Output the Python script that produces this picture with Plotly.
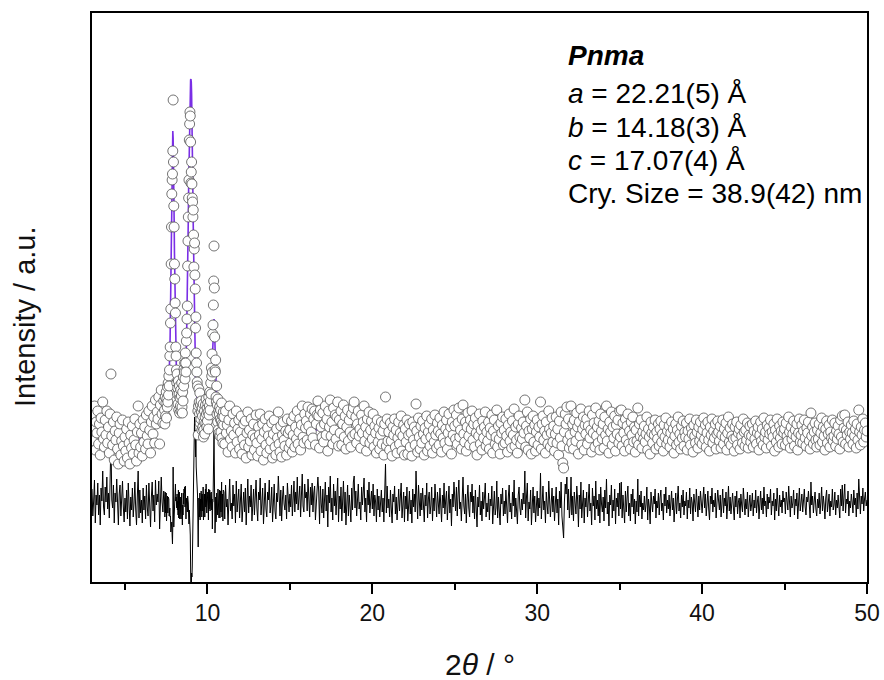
import numpy as np
import plotly.graph_objects as go

# ---------------- measurement grid (2theta, degrees) ----------------
# segment A: 3.00-7.35 step 0.05 ; segment B (peaks): 7.40-10.98 step 0.02 ; segment C: 11.00-50.00 step 0.05
two_theta_a = np.round(np.arange(3.00, 7.40 - 1e-9, 0.05), 2)
two_theta_b = np.round(np.arange(7.40, 11.00 - 1e-9, 0.02), 2)
two_theta_c = np.round(np.arange(11.00, 50.00 + 1e-9, 0.05), 2)

# ---------------- observed intensities (a.u.) ----------------
obs_a = [
    168, 141, 155, 176, 132, 160, 149, 171, 138, 158, 127, 164, 150, 180, 143, 135, 162, 147, 171, 139,
    155, 129, 168, 208, 146, 137, 160, 122, 151, 142, 165, 133, 118, 149, 158, 127, 141, 162, 136, 121,
    145, 131, 153, 124, 160, 139, 118, 147, 134, 156, 128, 142, 163, 137, 121, 150, 176, 129, 158, 135,
    149, 126, 162, 140, 155, 133, 167, 146, 138, 171, 152, 129, 160, 176, 148, 165, 139, 182, 158, 170,
    163, 185, 138, 177, 192, 168, 159, 181,
]
obs_b = [
    172, 158, 185, 166, 179, 190, 164, 183, 175, 195,
    180, 199, 187, 206, 196, 212, 226, 235, 259, 273,
    318, 355, 388, 402, 408, 431, 482, 420, 376, 355,
    318, 303, 279, 269, 235, 226, 212, 199, 208, 188,
    194, 178, 201, 172, 188, 196, 169, 184, 176, 192,
    171, 186, 199, 175, 169, 190, 181, 205, 196, 213,
    210, 219, 203, 229, 219, 210, 241, 249, 263, 276,
    316, 341, 365, 384, 402, 442, 458, 470, 466, 440,
    399, 410, 420, 398, 384, 380, 365, 372, 347, 315,
    333, 339, 307, 293, 254, 265, 229, 219, 210, 200,
    196, 171, 147, 176, 193, 180, 168, 189, 159, 177,
    163, 181, 170, 152, 174, 166, 155, 178, 145, 152,
    160, 171, 148, 165, 177, 159, 183, 168, 155, 174,
    161, 179, 170, 153, 185, 167, 176, 190, 172, 181,
    199, 188, 214, 206, 228, 210, 248, 257, 277, 301,
    336, 294, 245, 212, 210, 222, 185, 180, 196, 168,
    177, 160, 183, 152, 171, 149, 168, 175, 146, 163,
    172, 150, 161, 179, 144, 158, 166, 139, 170, 157,
]
obs_c = [
    165, 138, 171, 149, 157, 130, 162, 176, 143, 151, 135, 168, 147, 159, 129, 171, 140, 153, 162, 133,
    150, 166, 128, 143, 158, 137, 161, 124, 149, 170, 135, 152, 141, 163, 127, 147, 158, 132, 144, 167,
    139, 126, 155, 147, 168, 131, 143, 158, 122, 150, 163, 137, 129, 154, 146, 166, 133, 141, 159, 124,
    148, 162, 135, 127, 153, 144, 170, 138, 130, 156, 125, 147, 160, 142, 136, 151, 127, 163, 149, 134,
    152, 139, 161, 130, 147, 166, 135, 155, 143, 171, 138, 150, 163, 132, 157, 176, 145, 139, 168, 154,
    161, 142, 175, 156, 138, 168, 150, 173, 144, 163, 171, 137, 158, 167, 181, 166, 134, 172, 155, 145,
    169, 140, 158, 176, 147, 163, 131, 171, 155, 182, 146, 160, 138, 174, 152, 167, 143, 165, 180, 136,
    162, 149, 171, 137, 158, 177, 145, 166, 133, 155, 172, 141, 162, 150, 135, 168, 146, 174, 180, 148,
    165, 139, 158, 171, 146, 153, 134, 167, 149, 160, 176, 141, 155, 131, 163, 148, 170, 139, 152, 161,
    143, 168, 135, 156, 149, 129, 162, 140, 154, 133, 147, 160, 138, 151, 127, 158, 185, 136, 163, 141,
    150, 132, 159, 141, 126, 155, 147, 163, 135, 152, 129, 144, 160, 138, 149, 166, 131, 146, 157, 127,
    153, 140, 162, 128, 147, 158, 135, 149, 126, 160, 142, 155, 137, 178, 151, 130, 164, 145, 133, 156,
    139, 161, 148, 127, 154, 143, 166, 131, 150, 158, 136, 145, 163, 129, 152, 140, 167, 147, 134, 159,
    151, 137, 164, 148, 130, 157, 144, 170, 139, 153, 162, 133, 149, 168, 141, 155, 128, 160, 147, 172,
    156, 143, 167, 138, 159, 174, 145, 152, 133, 163, 177, 148, 140, 160, 131, 155, 169, 146, 137, 162,
    153, 171, 142, 158, 135, 164, 149, 127, 157, 146, 168, 138, 152, 132, 161, 144, 155, 170, 136, 150,
    141, 160, 133, 154, 147, 167, 129, 151, 162, 138, 145, 172, 135, 156, 143, 128, 159, 149, 165, 137,
    152, 139, 163, 146, 130, 157, 168, 141, 150, 134, 161, 147, 173, 136, 155, 142, 129, 158, 166, 145,
    138, 154, 143, 160, 149, 182, 135, 156, 170, 132, 151, 144, 163, 128, 153, 166, 140, 157, 131, 150,
    162, 137, 155, 145, 180, 133, 158, 166, 142, 151, 129, 160, 147, 138, 171, 153, 135, 149, 164, 140,
    156, 131, 148, 165, 139, 153, 127, 161, 144, 170, 136, 119, 114, 150, 168, 158, 175, 142, 163, 134,
    147, 176, 139, 158, 133, 162, 150, 141, 169, 155, 128, 160, 146, 173, 137, 153, 165, 132, 157, 148,
    163, 138, 156, 171, 144, 152, 130, 167, 149, 159, 135, 174, 146, 155, 139, 161, 132, 168, 151, 143,
    158, 134, 165, 147, 176, 141, 153, 129, 160, 150, 170, 137, 155, 144, 166, 131, 157, 148, 162, 139,
    171, 145, 172, 136, 159, 149, 131, 163, 142, 156, 168, 138, 151, 133, 160, 147, 165, 140, 155, 130,
    152, 141, 174, 137, 158, 146, 162, 134, 150, 143, 156, 140, 148, 165, 132, 153, 145, 128, 160, 149,
    139, 155, 147, 162, 133, 150, 143, 158, 136, 153, 161, 140, 148, 131, 157, 145, 164, 138, 151, 142,
    156, 135, 149, 160, 141, 153, 129, 146, 158, 137, 152, 165, 140, 148, 133, 156, 144, 161, 136, 150,
    145, 159, 132, 151, 143, 163, 137, 154, 148, 130, 157, 146, 139, 162, 150, 134, 155, 141, 160, 147,
    138, 152, 164, 143, 157, 135, 149, 160, 142, 131, 155, 147, 163, 139, 151, 144, 158, 133, 148, 161,
    150, 141, 156, 134, 147, 162, 138, 153, 145, 159, 132, 149, 165, 140, 154, 137, 146, 158, 143, 131,
    155, 144, 160, 137, 149, 153, 133, 157, 146, 139, 163, 150, 136, 152, 142, 159, 134, 147, 156, 140,
    146, 158, 135, 151, 143, 161, 138, 149, 155, 132, 147, 160, 141, 153, 137, 164, 145, 150, 134, 157,
    142, 154, 148, 162, 136, 150, 145, 158, 131, 152, 140, 163, 147, 135, 156, 144, 151, 138, 160, 149,
    153, 137, 159, 146, 141, 165, 150, 134, 155, 143, 148, 161, 136, 152, 145, 158, 132, 149, 163, 140,
    147, 157, 139, 151, 162, 144, 136, 154, 149, 160, 141, 133, 169, 146, 155, 138, 150, 159, 142, 135,
    152, 143, 158, 137, 149, 164, 140, 155, 146, 132, 153, 161, 139, 148, 157, 135, 150, 144, 162, 141,
    146, 159, 136, 151, 143, 156, 148, 133, 162, 145, 166, 140, 154, 167, 138, 152, 147, 160, 135, 150,
    143, 157, 149, 138, 161, 146, 153, 134, 158, 142, 172, 150, 137, 155, 147, 163, 140, 152, 159, 145,
    151,
]

# ---------------- calculated (Rietveld fit) intensities ----------------
calc_a = [
    152, 152, 151, 151, 150, 150, 149, 149, 148, 148, 147, 147, 146, 146, 145, 145, 144, 144, 143, 143,
    143, 142, 142, 141, 141, 140, 140, 140, 139, 139, 139, 139, 138, 138, 138, 138, 138, 138, 138, 138,
    138, 138, 138, 138, 138, 138, 139, 139, 139, 139, 140, 140, 140, 141, 141, 141, 142, 142, 143, 143,
    144, 144, 145, 145, 146, 147, 147, 148, 149, 149, 150, 151, 152, 153, 154, 155, 156, 157, 158, 159,
    160, 161, 162, 163, 164, 165, 166, 167,
]
calc_b = [
    168, 170, 172, 174, 176, 178, 180, 182, 184, 186,
    188, 191, 195, 200, 207, 216, 229, 247, 270, 300,
    335, 372, 405, 432, 447, 451, 444, 426, 398, 364,
    330, 298, 270, 248, 231, 218, 209, 202, 197, 193,
    190, 188, 186, 185, 184, 183, 183, 183, 183, 184,
    185, 186, 187, 188, 189, 190, 191, 193, 195, 197,
    198, 201, 205, 210, 216, 224, 234, 247, 263, 283,
    307, 334, 363, 393, 421, 447, 468, 485, 496, 502,
    503, 500, 488, 470, 446, 418, 388, 357, 327, 299,
    273, 251, 233, 218, 206, 197, 191, 187, 184, 183,
    186, 188, 189, 188, 186, 183, 180, 177, 174, 171,
    169, 167, 165, 164, 163, 162, 161, 160, 160, 160,
    160, 160, 160, 160, 161, 161, 162, 162, 163, 164,
    165, 166, 167, 168, 169, 171, 173, 175, 178, 182,
    187, 193, 201, 211, 222, 234, 245, 254, 260, 263,
    263, 259, 251, 240, 227, 214, 202, 192, 184, 178,
    173, 170, 167, 165, 163, 162, 161, 160, 159, 158,
    158, 157, 157, 156, 156, 156, 155, 155, 155, 154,
]
calc_c = [
    152, 152, 151, 151, 151, 150, 150, 150, 149, 149, 149, 148, 148, 148, 147, 147, 147, 146, 146, 146,
    146, 145, 145, 145, 145, 144, 144, 144, 144, 144, 143, 143, 143, 143, 143, 143, 142, 142, 142, 142,
    142, 142, 142, 142, 141, 141, 141, 141, 141, 141, 141, 141, 141, 141, 141, 141, 141, 141, 141, 141,
    141, 141, 141, 141, 141, 141, 141, 141, 141, 141, 141, 141, 141, 141, 141, 141, 141, 141, 141, 141,
    141, 141, 141, 141, 141, 142, 142, 142, 142, 143, 143, 143, 144, 144, 145, 145, 146, 146, 147, 147,
    148, 148, 149, 149, 150, 150, 150, 151, 151, 151, 152, 152, 152, 152, 153, 153, 153, 153, 153, 153,
    153, 153, 153, 153, 153, 153, 153, 153, 153, 153, 153, 153, 153, 153, 153, 153, 153, 153, 153, 153,
    153, 153, 153, 153, 153, 153, 153, 153, 153, 152, 152, 152, 152, 152, 152, 151, 151, 151, 151, 151,
    151, 150, 150, 150, 150, 150, 149, 149, 149, 149, 149, 148, 148, 148, 148, 148, 147, 147, 147, 147,
    147, 147, 146, 146, 146, 146, 146, 145, 145, 145, 145, 145, 145, 144, 144, 144, 144, 144, 144, 144,
    144, 144, 144, 144, 144, 144, 144, 144, 144, 144, 144, 144, 144, 144, 144, 144, 144, 144, 144, 144,
    144, 144, 144, 144, 144, 144, 144, 144, 144, 144, 144, 144, 144, 144, 144, 144, 144, 144, 144, 144,
    144, 144, 144, 144, 144, 144, 144, 144, 144, 145, 145, 145, 145, 145, 145, 146, 146, 146, 146, 146,
    146, 146, 147, 147, 147, 147, 147, 148, 148, 148, 148, 148, 148, 149, 149, 149, 149, 149, 149, 149,
    149, 149, 149, 149, 149, 149, 149, 149, 149, 149, 149, 149, 149, 149, 149, 149, 149, 149, 149, 149,
    150, 150, 150, 149, 149, 149, 149, 149, 149, 148, 148, 148, 148, 148, 148, 148, 148, 148, 148, 148,
    148, 148, 148, 148, 148, 148, 148, 148, 148, 148, 148, 148, 148, 148, 148, 148, 148, 148, 148, 148,
    148, 148, 148, 148, 148, 148, 148, 148, 148, 148, 148, 148, 148, 148, 148, 148, 148, 148, 148, 148,
    148, 148, 148, 148, 148, 148, 148, 148, 148, 148, 148, 148, 148, 148, 148, 148, 148, 148, 148, 148,
    148, 148, 148, 148, 148, 147, 147, 147, 147, 147, 147, 147, 147, 147, 147, 147, 147, 147, 147, 147,
    147, 147, 147, 147, 147, 147, 147, 147, 147, 147, 147, 147, 147, 147, 147, 147, 147, 147, 147, 147,
    148, 148, 149, 149, 149, 149, 150, 150, 150, 150, 150, 150, 150, 150, 150, 150, 150, 150, 150, 150,
    150, 150, 150, 150, 150, 150, 150, 150, 150, 150, 150, 150, 150, 150, 150, 150, 150, 150, 150, 150,
    150, 150, 150, 150, 150, 150, 150, 150, 150, 150, 150, 150, 150, 150, 150, 150, 150, 150, 150, 150,
    149, 149, 149, 149, 149, 149, 149, 149, 149, 149, 149, 149, 149, 149, 149, 149, 149, 149, 149, 149,
    148, 148, 148, 148, 148, 148, 148, 148, 148, 148, 147, 147, 147, 147, 147, 147, 147, 147, 147, 147,
    146, 146, 146, 146, 146, 146, 146, 146, 146, 146, 146, 146, 146, 146, 146, 146, 146, 146, 146, 146,
    146, 146, 146, 146, 146, 146, 146, 146, 146, 146, 146, 146, 146, 146, 146, 146, 146, 146, 146, 146,
    146, 146, 146, 146, 146, 146, 146, 146, 146, 146, 146, 146, 146, 146, 146, 146, 146, 146, 146, 146,
    146, 146, 146, 146, 146, 146, 146, 146, 146, 146, 146, 146, 146, 146, 146, 146, 146, 146, 146, 146,
    146, 146, 146, 146, 146, 146, 146, 146, 146, 146, 146, 146, 146, 146, 146, 146, 146, 146, 146, 146,
    146, 146, 146, 146, 146, 146, 146, 146, 146, 146, 146, 146, 146, 146, 146, 146, 146, 146, 146, 146,
    146, 146, 146, 146, 146, 146, 146, 146, 146, 146, 146, 146, 146, 146, 146, 146, 146, 146, 146, 146,
    146, 146, 146, 146, 146, 146, 146, 146, 146, 146, 146, 146, 146, 146, 146, 146, 146, 146, 146, 146,
    146, 146, 146, 146, 146, 146, 146, 146, 146, 146, 146, 146, 146, 146, 146, 146, 146, 146, 146, 146,
    146, 146, 146, 146, 146, 146, 146, 146, 146, 146, 146, 146, 146, 146, 146, 146, 146, 146, 146, 146,
    146, 146, 146, 146, 146, 146, 146, 146, 146, 146, 146, 146, 146, 146, 146, 146, 146, 146, 146, 146,
    146, 146, 146, 146, 146, 146, 146, 146, 146, 146, 146, 146, 146, 146, 146, 146, 146, 146, 146, 146,
    146, 146, 146, 146, 146, 146, 146, 146, 146, 146, 146, 146, 146, 146, 146, 146, 146, 146, 146, 146,
    146,
]

# offset applied to the difference curve (obs - calc) so it sits below the pattern
DIFF_OFFSET = 77

# annotation text
label_lines = [
    "<b><i>Pnma</i></b>",
    "<i>a</i> = 22.21(5) Å",
    "<i>b</i> = 14.18(3) Å",
    "<i>c</i> = 17.07(4) Å",
    "Cry. Size = 38.9(42) nm",
]
x_ticks = [10, 20, 30, 40, 50]
x_minor_ticks = [5, 15, 25, 35, 45]

# ---------------- assemble ----------------
segs = [(two_theta_a, obs_a, calc_a), (two_theta_b, obs_b, calc_b), (two_theta_c, obs_c, calc_c)]
for xs, o, c in segs:
    if not (len(xs) == len(o) == len(c)):
        raise ValueError(f"length mismatch: x={len(xs)} obs={len(o)} calc={len(c)}")

two_theta = np.concatenate([s[0] for s in segs])
obs = np.array(obs_a + obs_b + obs_c, dtype=float)
calc = np.array(calc_a + calc_b + calc_c, dtype=float)
diff = obs - calc + DIFF_OFFSET

FONT = "Liberation Sans, Arial, Helvetica, sans-serif"

fig = go.Figure()
fig.add_trace(go.Scatter(x=two_theta, y=diff, mode="lines",
                         line=dict(color="black", width=1.0), name="diff"))
fig.add_trace(go.Scatter(x=two_theta, y=calc, mode="lines",
                         line=dict(color="#7a2ee6", width=1.6), name="calc"))
fig.add_trace(go.Scatter(x=two_theta, y=obs, mode="markers",
                         marker=dict(symbol="circle", size=10, color="white",
                                     line=dict(color="#505050", width=0.8)),
                         name="obs"))

L, R, T, B = 92, 17, 13, 98
W, H = 884, 680
pw, ph = W - L - R, H - T - B

def px_to_paper(px, py):
    return (px - L) / pw, (H - B - py) / ph

annotations = []
line_py = [55, 94, 127, 160, 193]
for txt, py in zip(label_lines, line_py):
    xp, yp = px_to_paper(566, py)
    annotations.append(dict(text=txt, x=xp, y=yp, xref="paper", yref="paper",
                            xanchor="left", yanchor="middle", showarrow=False,
                            font=dict(family=FONT, size=28, color="black")))
xp, yp = px_to_paper(25, 317)
annotations.append(dict(text="Intensity / a.u.", x=xp, y=yp, xref="paper", yref="paper",
                        xanchor="center", yanchor="middle", textangle=-90, showarrow=False,
                        font=dict(family=FONT, size=29, color="#111")))
xp, yp = px_to_paper(480, 664)
annotations.append(dict(text="2<i>θ</i> / °", x=xp, y=yp, xref="paper", yref="paper",
                        xanchor="center", yanchor="middle", showarrow=False,
                        font=dict(family=FONT, size=30, color="#111")))

fig.update_layout(
    width=W, height=H,
    margin=dict(l=L, r=R, t=T, b=B, autoexpand=False),
    paper_bgcolor="white", plot_bgcolor="white",
    showlegend=False,
    annotations=annotations,
    xaxis=dict(range=[3, 50], showgrid=False, zeroline=False,
               showline=True, linecolor="black", linewidth=1.5, mirror=True,
               ticks="outside", tickvals=x_ticks, ticklen=10, tickwidth=1.5, tickcolor="black",
               minor=dict(tickvals=x_minor_ticks, ticks="outside", ticklen=6, tickwidth=1.5,
                          tickcolor="black", showgrid=False),
               tickfont=dict(family=FONT, size=23, color="#111")),
    yaxis=dict(range=[0, 569], showgrid=False, zeroline=False,
               showline=True, linecolor="black", linewidth=1.5, mirror=True,
               ticks="", showticklabels=False),
)

# remove the browser's default page margin so the figure fills the window exactly
fig.write_html("out.html", config={"displayModeBar": False},
               post_script="document.body.style.margin='0px';")
